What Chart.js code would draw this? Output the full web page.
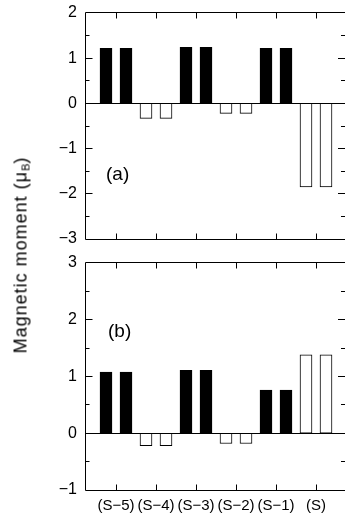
<!DOCTYPE html>
<html><head><meta charset="utf-8">
<script src="https://cdn.jsdelivr.net/npm/chart.js@4"></script>
<style>
html,body{margin:0;padding:0;background:#fff;overflow:hidden;width:345px;height:513px;}
#wrap{position:relative;width:345px;height:513px;overflow:hidden;background:#fff;}
canvas{position:absolute;left:0;}
#ylab{position:absolute;left:21px;top:255px;font-family:"Liberation Sans",Arial,sans-serif;font-size:18px;letter-spacing:1px;color:#000;white-space:nowrap;transform:translate(-50%,-50%) rotate(-90deg);}
#ylab sub{font-size:11px;vertical-align:-3px;letter-spacing:0;}
</style></head>
<body><div id="wrap">
<canvas id="ca" width="346" height="250" style="top:0"></canvas>
<canvas id="cb" width="346" height="263" style="top:250px"></canvas>
<div id="ylab">Magnetic moment (μ<sub>B</sub>)</div>
</div>
<script>
// ---- data ----
const categories = ['(S\u22125)','(S\u22124)','(S\u22123)','(S\u22122)','(S\u22121)','(S)'];
const barsA = [1.22, 1.22, -0.33, -0.33, 1.24, 1.24, -0.22, -0.22, 1.22, 1.22, -1.85, -1.85];
const barsB = [1.08, 1.08, -0.22, -0.22, 1.11, 1.11, -0.18, -0.18, 0.76, 0.76, 1.38, 1.38];
const yTicksA = [-3, -2, -1, 0, 1, 2];
const yTicksB = [-1, 0, 1, 2, 3];
const panelLabelA = '(a)';
const panelLabelB = '(b)';

// ---- styles ----
const categoryFill = ['#000000', '#ffffff', '#000000', '#ffffff', '#000000', '#ffffff'];
const FONT = '"Liberation Sans", Arial, Helvetica, sans-serif';

function fmt(v){ return v < 0 ? '\u2212' + Math.abs(v) : String(v); }

function framePlugin(label, lx, ly){
  return {
    id: 'frame',
    afterDatasetsDraw(chart){
      const ctx = chart.ctx, a = chart.chartArea, xs = chart.scales.x, ys = chart.scales.y;
      ctx.save();
      ctx.strokeStyle = '#000'; ctx.lineWidth = 1;
      const L = a.left - 0.5, R = a.right, T = a.top - 0.5, B = a.bottom + 0.5;
      ctx.beginPath();
      // left, top, bottom borders (right border falls just outside the picture)
      ctx.moveTo(R, T); ctx.lineTo(L, T); ctx.lineTo(L, B); ctx.lineTo(R, B);
      const z = Math.floor(ys.getPixelForValue(0)) + 0.5;
      ctx.moveTo(L, z); ctx.lineTo(R, z);
      for (let v = ys.min + 0.5; v < ys.max; v += 0.5){
        const p = Math.floor(ys.getPixelForValue(v)) + 0.5;
        const len = Math.abs(v - Math.round(v)) < 1e-6 ? 7 : 4;
        ctx.moveTo(L, p); ctx.lineTo(L + len, p);
        ctx.moveTo(R, p); ctx.lineTo(R - len - 1, p);
      }
      categories.forEach((c, i) => {
        const p = Math.floor(xs.getPixelForValue(2 * i + 1.5)) + 0.5;
        ctx.moveTo(p, T); ctx.lineTo(p, T + 6);
        ctx.moveTo(p, B); ctx.lineTo(p, B - 6);
      });
      ctx.stroke();
      ctx.fillStyle = '#000';
      ctx.font = '19px ' + FONT;
      ctx.textAlign = 'center'; ctx.textBaseline = 'middle';
      ctx.fillText(label, xs.getPixelForValue(lx), ys.getPixelForValue(ly));
      ctx.restore();
    }
  };
}

function makeChart(id, bars, yMin, yMax, yTicks, showX, padBottom, label, lx, ly){
  const data = bars.map((v, i) => ({x: i + 1, y: v}));
  const fills = bars.map((v, i) => categoryFill[Math.floor(i / 2)]);
  return new Chart(document.getElementById(id), {
    type: 'bar',
    data: { datasets: [{
      data: data,
      backgroundColor: fills,
      borderColor: '#000',
      borderWidth: 1,
      borderSkipped: false,
      barThickness: 12
    }]},
    options: {
      responsive: false,
      animation: false,
      devicePixelRatio: 1,
      layout: { padding: { left: 0, right: 0, top: 13, bottom: padBottom } },
      plugins: { legend: { display: false }, tooltip: { enabled: false } },
      scales: {
        x: {
          type: 'linear', min: 0, max: 13, display: showX, offset: false,
          afterFit(s){ if (showX) s.height = 23; else s.height = 0; },
          afterBuildTicks(s){ s.ticks = categories.map((c, i) => ({ value: 2 * i + 1.5 })); },
          ticks: { autoSkip: false, maxRotation: 0, padding: 0, color: '#000',
                   font: { size: 15, family: FONT },
                   callback: (v, i) => categories[i] },
          grid: { display: false, drawTicks: true, tickLength: 7, offset: false },
          border: { display: false }
        },
        y: {
          min: yMin, max: yMax,
          afterFit(s){ s.width = 86; },
          afterBuildTicks(s){ s.ticks = yTicks.map(v => ({ value: v })); },
          ticks: { padding: 0, color: '#000', font: { size: 16, family: FONT },
                   callback: v => fmt(v) },
          grid: { display: false, drawTicks: true, tickLength: 9 },
          border: { display: false }
        }
      }
    },
    plugins: [framePlugin(label, lx, ly)]
  });
}

makeChart('ca', barsA, -3, 2, yTicksA, false, 11, panelLabelA, 1.58, -1.58);
makeChart('cb', barsB, -1, 3, yTicksB, true, 0, panelLabelB, 1.68, 1.78);
</script>
</body></html>
